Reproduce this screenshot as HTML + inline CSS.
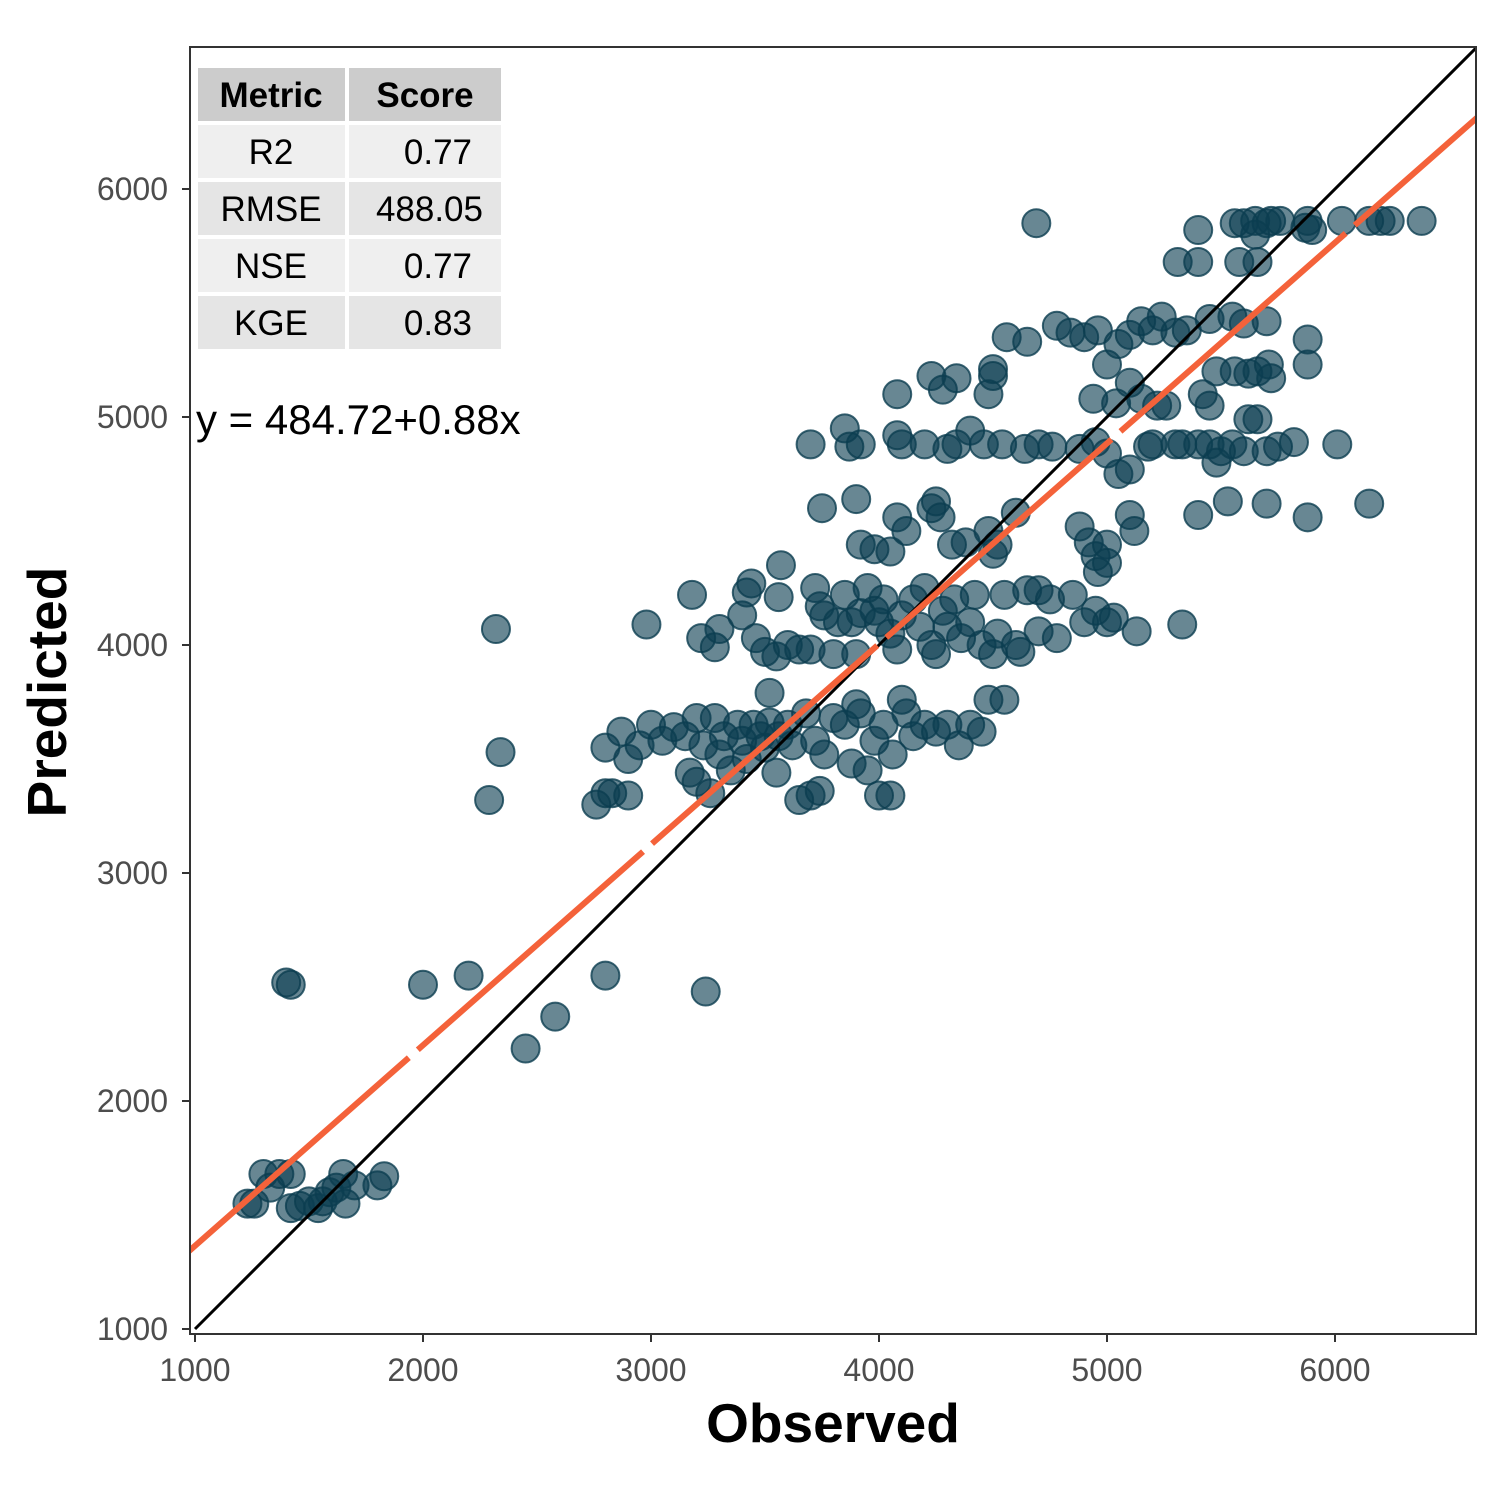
<!DOCTYPE html>
<html><head><meta charset="utf-8"><style>body{margin:0;background:#fff}svg{display:block;font-family:"Liberation Sans",sans-serif}</style></head>
<body>
<svg id="chart" width="1500" height="1500" viewBox="0 0 1500 1500" xmlns="http://www.w3.org/2000/svg">
<rect width="1500" height="1500" fill="#fff"/>
<defs><clipPath id="clip"><rect x="190" y="47" width="1286" height="1287"/></clipPath></defs>
<g id="points" clip-path="url(#clip)"></g>
<g id="lines" clip-path="url(#clip)"></g>
<rect x="190" y="47" width="1286" height="1287" fill="none" stroke="#333" stroke-width="2"/>
<g id="axes"></g>
<g font-size="35">
<rect x="198" y="68" width="147" height="53" fill="#cccccc"/><rect x="349" y="68" width="152" height="53" fill="#cccccc"/>
<text x="271" y="107" text-anchor="middle" font-weight="bold">Metric</text><text x="425" y="107" text-anchor="middle" font-weight="bold">Score</text>
<rect x="198" y="125" width="147" height="53" fill="#efefef"/><rect x="349" y="125" width="152" height="53" fill="#efefef"/>
<text x="271" y="164" text-anchor="middle">R2</text><text x="472" y="164" text-anchor="end">0.77</text>
<rect x="198" y="182" width="147" height="53" fill="#e5e5e5"/><rect x="349" y="182" width="152" height="53" fill="#e5e5e5"/>
<text x="271" y="221" text-anchor="middle">RMSE</text><text x="483" y="221" text-anchor="end">488.05</text>
<rect x="198" y="239" width="147" height="53" fill="#efefef"/><rect x="349" y="239" width="152" height="53" fill="#efefef"/>
<text x="271" y="278" text-anchor="middle">NSE</text><text x="472" y="278" text-anchor="end">0.77</text>
<rect x="198" y="296" width="147" height="53" fill="#e5e5e5"/><rect x="349" y="296" width="152" height="53" fill="#e5e5e5"/>
<text x="271" y="335" text-anchor="middle">KGE</text><text x="472" y="335" text-anchor="end">0.83</text>
</g>
<text x="196" y="434" font-size="42">y = 484.72+0.88x</text>
<text x="833" y="1442" font-size="55" font-weight="bold" text-anchor="middle">Observed</text>
<text transform="translate(66,692) rotate(-90)" font-size="55" font-weight="bold" text-anchor="middle">Predicted</text>
</svg>
<script>
const obs=[1230,1260,1300,1330,1370,1420,1420,1460,1500,1540,1560,1590,1620,1650,1660,1700,1800,1830,1400,1420,2000,2200,2450,2580,2800,3240,2290,2340,2320,2980,2760,2800,2830,2900,2800,2870,2900,2950,3000,3050,3100,3150,3170,3200,3200,3230,3260,3280,3300,3320,3350,3380,3400,3420,3450,3480,3500,3520,3550,3560,3600,3620,3650,3680,3700,3720,3740,3760,3800,3850,3880,3900,3920,3950,3980,4000,4020,4050,4060,4100,4120,4150,4200,4250,4300,4350,4400,4450,4480,4550,3520,3180,3220,3280,3300,3400,3420,3440,3460,3500,3550,3560,3570,3600,3650,3700,3720,3740,3760,3800,3820,3850,3880,3900,3920,3950,3980,4000,4020,4050,4080,4100,4150,4180,4200,4230,4250,4280,4300,4330,4360,4400,4420,4450,4500,4520,4550,4600,4650,4700,4750,4780,4850,4900,4950,5000,5030,5130,5330,4620,4700,3700,3750,3850,3870,3920,3900,3920,3980,4050,4080,4080,4100,4120,4200,4230,4250,4270,4300,4340,4400,4320,4380,4480,4520,4500,4600,4460,4540,4640,4700,4760,4880,4950,5000,5050,5100,4080,4230,4280,4340,4480,4500,4500,4560,4650,4780,4840,4900,4960,5000,5050,5100,5150,5200,5240,5300,5350,4880,4920,4950,4960,5000,5000,5100,5120,4940,5040,5100,5150,5220,5260,5180,5200,5300,5330,5400,5450,5480,5500,5550,5600,5620,5660,5700,5750,5820,6010,5400,5530,5700,5880,6150,5420,5450,5480,5560,5620,5660,5710,5720,5880,5880,5450,5550,5600,5700,5310,5400,5580,5660,5400,5560,5600,5650,5700,5720,5760,5870,5900,5880,6030,6150,6200,6240,6380,4690,5650];
const pred=[1550,1550,1680,1620,1680,1680,1530,1540,1560,1530,1560,1600,1620,1680,1550,1630,1630,1670,2520,2510,2510,2550,2230,2370,2550,2480,3320,3530,4070,4090,3300,3350,3350,3340,3550,3620,3500,3560,3650,3580,3640,3600,3440,3400,3680,3560,3350,3680,3520,3600,3450,3650,3580,3500,3650,3600,3550,3660,3440,3600,3650,3560,3320,3700,3340,3580,3360,3520,3680,3650,3480,3740,3700,3450,3580,3340,3650,3340,3520,3760,3700,3600,3650,3620,3650,3560,3650,3620,3760,3760,3790,4220,4030,3990,4070,4130,4230,4270,4030,3970,3950,4210,4350,4000,3980,3980,4250,4170,4130,3960,4100,4220,4100,3960,4140,4250,4150,4100,4200,4050,3980,4130,4200,4080,4250,4000,3960,4150,4080,4200,4030,4100,4220,4000,3960,4050,4220,4000,4240,4060,4200,4030,4220,4100,4150,4100,4120,4060,4090,3970,4240,4880,4600,4950,4870,4880,4640,4440,4420,4410,4560,4920,4880,4500,4880,4600,4630,4560,4860,4880,4940,4440,4450,4500,4440,4400,4580,4880,4880,4860,4880,4870,4860,4890,4840,4750,4770,5100,5180,5120,5170,5100,5180,5210,5350,5330,5400,5370,5350,5380,5230,5320,5360,5420,5380,5440,5370,5380,4520,4450,4390,4320,4440,4360,4570,4500,5080,5060,5150,5080,5050,5050,4870,4880,4880,4880,4880,4880,4800,4850,4880,4850,4990,4990,4850,4870,4890,4880,4570,4630,4620,4560,4620,5100,5050,5200,5200,5190,5200,5230,5170,5230,5340,5430,5440,5410,5420,5680,5680,5680,5680,5820,5850,5850,5860,5850,5860,5860,5830,5820,5860,5860,5860,5860,5860,5860,5850,5800];
const xTicks=[1000,2000,3000,4000,5000,6000];
const yTicks=[1000,2000,3000,4000,5000,6000];
const fitA=484.72, fitB=0.88;
const NS='http://www.w3.org/2000/svg';
const sx=v=>195+(v-1000)*0.228;
const sy=v=>1329-(v-1000)*0.228;
function mk(t,a,p){const e=document.createElementNS(NS,t);for(const k in a)e.setAttribute(k,a[k]);p.appendChild(e);return e;}
const pg=document.getElementById('points');
for(let i=0;i<obs.length;i++){
  const c=mk('circle',{cx:sx(obs[i]),cy:sy(pred[i]),r:14,fill:'#0b3d50','fill-opacity':0.62,stroke:'#0b3d50','stroke-opacity':0.8,'stroke-width':2},pg);
  
  
}
const lg=document.getElementById('lines');
const id=mk('line',{x1:sx(1000),y1:sy(1000),x2:sx(6700),y2:sy(6700),stroke:'#000','stroke-width':3},lg);


const rl=mk('line',{x1:sx(950),y1:sy(fitA+fitB*950),x2:sx(6700),y2:sy(fitA+fitB*6700),stroke:'#f4623a','stroke-width':6,'stroke-dasharray':'300 12'},lg);


const ax=document.getElementById('axes');
xTicks.forEach(v=>{
  const l=mk('line',{x1:sx(v),y1:1334,x2:sx(v),y2:1342,stroke:'#333','stroke-width':2},ax);
  
  
  const t=mk('text',{x:sx(v),y:1381,'font-size':32,fill:'#4d4d4d','text-anchor':'middle'},ax);
  t.textContent=v;
  
  
});
yTicks.forEach(v=>{
  const l=mk('line',{x1:182,y1:sy(v),x2:190,y2:sy(v),stroke:'#333','stroke-width':2},ax);
  
  
  const t=mk('text',{x:168,y:sy(v)+11,'font-size':32,fill:'#4d4d4d','text-anchor':'end'},ax);
  t.textContent=v;
  
  
});
</script>
</body></html>
